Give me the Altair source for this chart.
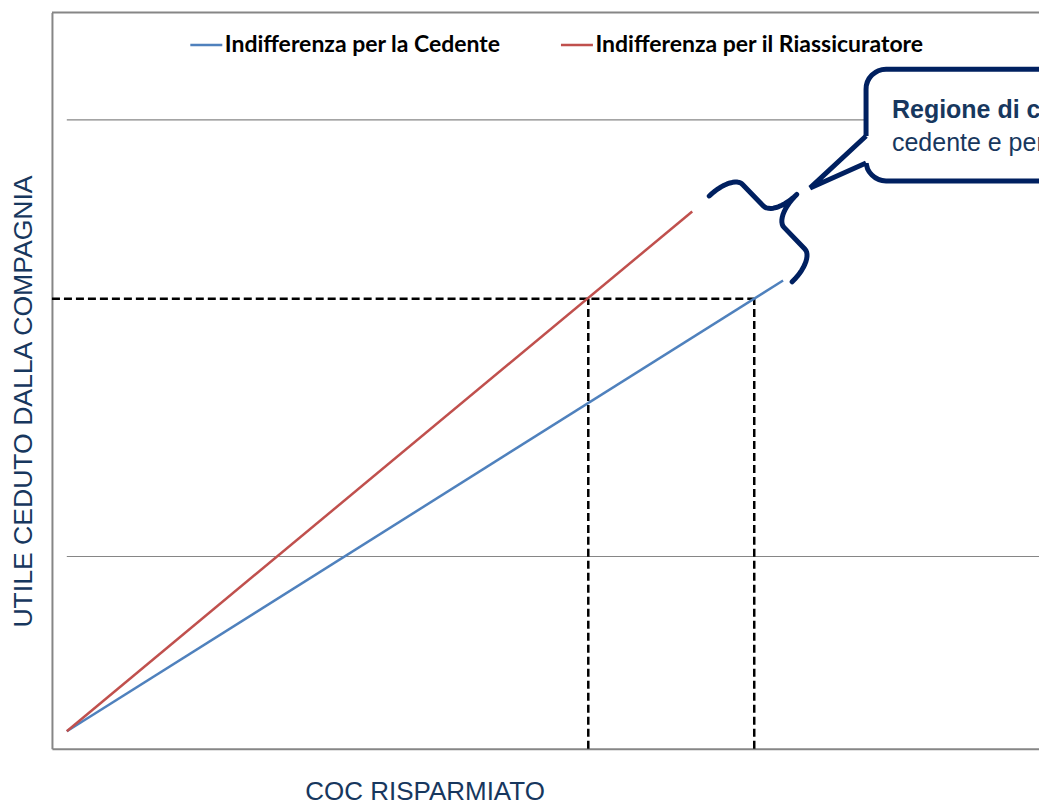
import altair as alt
import numpy as np
import pandas as pd

# ---------------- data ----------------
series_names = ["Indifferenza per la Cedente", "Indifferenza per il Riassicuratore"]
series_colors = ["#4F81BD", "#C0504D"]
cedente_x = [0.0, 8.2]
cedente_y = [0.0, 5.16]
riass_x = [0.0, 7.16]
riass_y = [0.0, 5.95]

level_y = 4.95                 # utile ceduto di riferimento (linea tratteggiata)
level_x = [5.97, 7.87]         # intersezioni: riassicuratore, cedente

grid_y = [2, 7]

x_domain = [-0.17, 11.13]
y_domain = [-0.2, 8.23]

axis_x_title = "COC RISPARMIATO"
axis_y_title = "UTILE CEDUTO DALLA COMPAGNIA"
callout_title = "Regione di convenienza per la"
callout_body = "cedente e per il riassicuratore"

# callout box / pointer / brace (annotation, data units)
box_x = [9.15, 13.0]
box_y = [6.30, 7.58]
pointer_x = [9.15, 8.51, 9.15]
pointer_y = [6.815, 6.22, 6.506]
brace_start = (7.355, 6.128)
brace_end = (8.304, 5.145)
text_x = 9.447
text_y = [7.02, 6.643]

W, H = 988, 737
NAVY = "#002060"
TXT = "#17375E"
GRAY = "#868686"


def brace_points(A, B, h, a, n=14):
    A = np.array(A, float)
    B = np.array(B, float)
    d = B - A
    L = float(np.hypot(*d))
    t = d / L
    nv = np.array([-t[1], t[0]])
    th = np.linspace(0, np.pi / 2, n)
    half = [(a * (1 - np.cos(v)), h * np.sin(v)) for v in th]
    half += [(L / 2 - a + a * np.sin(v), h + h * (1 - np.cos(v))) for v in th]
    full = half + [(L - u, v) for (u, v) in reversed(half)]
    pts = [A + u * t + v * nv for (u, v) in full]
    return pd.DataFrame({"x": [p[0] for p in pts], "y": [p[1] for p in pts], "o": range(len(pts))})


xs = alt.Scale(domain=x_domain, nice=False, zero=False)
ys = alt.Scale(domain=y_domain, nice=False, zero=False)
FONT = "Liberation Sans, Arial"

x_axis = alt.Axis(
    title=axis_x_title, labels=False, ticks=False, grid=False,
    domainColor=GRAY, domainWidth=2,
    titleFont=FONT, titleFontSize=26, titleFontWeight="normal", titleColor=TXT,
    titleX=373, titleY=51, titleAlign="center", titleBaseline="alphabetic",
)
y_axis = alt.Axis(
    title=axis_y_title, labels=False, ticks=False, grid=False,
    domainColor=GRAY, domainWidth=2,
    titleFont=FONT, titleFontSize=26.6, titleFontWeight="normal", titleColor=TXT,
    titleX=-28, titleY=389, titleAlign="center", titleBaseline="middle", titleAngle=-90,
)


def X(f="x"):
    return alt.X(f"{f}:Q", scale=xs, axis=x_axis)


def Y(f="y"):
    return alt.Y(f"{f}:Q", scale=ys, axis=y_axis)


grid_df = pd.DataFrame({"y": grid_y, "x": [0.0] * len(grid_y), "x2": [x_domain[1]] * len(grid_y)})
grid = alt.Chart(grid_df).mark_rule(color=GRAY, strokeWidth=1.2).encode(x=X(), x2="x2:Q", y=Y())

top_frame = alt.Chart(pd.DataFrame({"a": [0]})).mark_rule(color=GRAY, strokeWidth=2).encode(
    x=alt.value(0), x2=alt.value(W), y=alt.value(0)
)

h_df = pd.DataFrame({"x": [x_domain[0]], "x2": [level_x[1]], "y": [level_y]})
v_df = pd.DataFrame({"x": level_x, "y": [y_domain[0]] * 2, "y2": [level_y] * 2})
dash_kw = dict(color="black", strokeWidth=2.5, strokeDash=[8, 4])
h_dash = alt.Chart(h_df).mark_rule(**dash_kw).encode(x=X(), x2="x2:Q", y=Y())
v_dash = alt.Chart(v_df).mark_rule(**dash_kw).encode(x=X(), y=Y(), y2="y2:Q")

lines_df = pd.concat([
    pd.DataFrame({"serie": series_names[0], "x": cedente_x, "y": cedente_y}),
    pd.DataFrame({"serie": series_names[1], "x": riass_x, "y": riass_y}),
])
lines = alt.Chart(lines_df).mark_line(strokeWidth=2.5).encode(
    x=X(), y=Y(),
    color=alt.Color(
        "serie:N",
        scale=alt.Scale(domain=series_names, range=series_colors),
        legend=alt.Legend(
            title=None, orient="none", legendX=137, legendY=15, direction="horizontal",
            symbolType="stroke", symbolSize=1024, symbolStrokeWidth=2.5,
            labelFont="Lato", labelFontSize=23, labelFontWeight="bold", labelColor="black",
            labelOffset=1, columnPadding=54, labelLimit=0, padding=0,
        ),
    ),
)

box_df = pd.DataFrame({"x": [box_x[0]], "x2": [box_x[1]], "y": [box_y[0]], "y2": [box_y[1]]})
box = alt.Chart(box_df).mark_rect(
    fill="white", stroke=NAVY, strokeWidth=5, cornerRadius=20, clip=True
).encode(x=X(), x2="x2:Q", y=Y(), y2="y2:Q")

gap_df = pd.DataFrame({"x": [pointer_x[0]], "y": [pointer_y[2]], "y2": [pointer_y[0]]})
gap = alt.Chart(gap_df).mark_rule(color="white", strokeWidth=8).encode(x=X(), y=Y(), y2="y2:Q")

pointer_df = pd.DataFrame({"x": pointer_x, "y": pointer_y, "o": [0, 1, 2]})
pointer = alt.Chart(pointer_df).mark_line(
    color=NAVY, strokeWidth=5, strokeJoin="miter", strokeCap="butt"
).encode(x=X(), y=Y(), order="o:Q")

brace_df = brace_points(brace_start, brace_end, h=0.366, a=0.17)
brace = alt.Chart(brace_df).mark_line(
    color=NAVY, strokeWidth=5, strokeCap="round", strokeJoin="round"
).encode(x=X(), y=Y(), order="o:Q")

txt_df = pd.DataFrame({"x": [text_x, text_x], "y": text_y, "t": [callout_title, callout_body]})
t1 = alt.Chart(txt_df.iloc[[0]]).mark_text(
    font=FONT, fontSize=25, fontWeight="bold", color=TXT, align="left", baseline="alphabetic", clip=True
).encode(x=X(), y=Y(), text="t:N")
t2 = alt.Chart(txt_df.iloc[[1]]).mark_text(
    font=FONT, fontSize=25, fontWeight="normal", color=TXT, align="left", baseline="alphabetic", clip=True
).encode(x=X(), y=Y(), text="t:N")

chart = alt.layer(grid, top_frame, h_dash, v_dash, lines, box, gap, pointer, brace, t1, t2).properties(
    width=W, height=H, autosize="none",
    padding={"left": 44, "top": 4, "right": 0, "bottom": 54},
    background="white",
).configure_view(stroke=None)

chart.save("out.html", embed_options={"renderer": "svg", "actions": False})
